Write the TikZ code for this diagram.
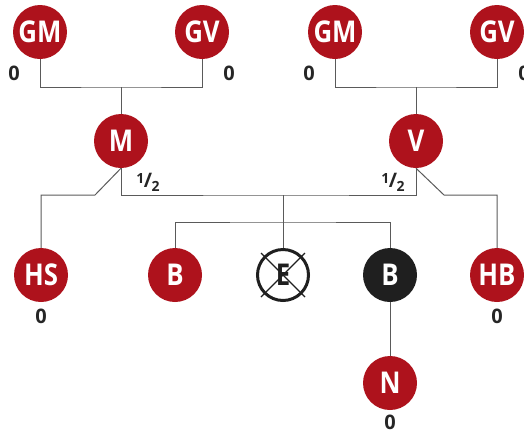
\documentclass[tikz,border=0pt]{standalone}
\usepackage{fontspec}
\setmainfont{Open Sans}
\newfontfamily\condfont[FakeStretch=0.86]{Open Sans}
\usetikzlibrary{calc}
\definecolor{pedred}{HTML}{AE121C}
\definecolor{linegray}{HTML}{5A5A5A}
\newcommand{\myhalf}{\raisebox{4.5pt}{\fontsize{14}{14}\selectfont 1}\kern-0.5pt/\kern-0.5pt\raisebox{-3.5pt}{\fontsize{14}{14}\selectfont 2}}
\begin{document}
\begin{tikzpicture}[x=1pt,y=-1pt,
  person/.style={circle,fill=pedred,minimum size=54pt,inner sep=0pt,text=white,font=\condfont\fontsize{30}{30}\selectfont\bfseries},
  dark/.style={circle,fill=black!88,minimum size=54pt,inner sep=0pt,text=white,font=\condfont\fontsize{30}{30}\selectfont\bfseries},
  crossed/.style={circle,draw=black!88,line width=3pt,minimum size=51pt,inner sep=0pt,text=black!88,font=\condfont\fontsize{30}{30}\selectfont\bfseries},
  val/.style={font=\fontsize{20}{20}\selectfont\bfseries,text=black!85,inner sep=0pt},
  link/.style={draw=linegray,line width=1pt}]
\useasboundingbox (0,0) rectangle (524,432);
\node[person] (gm1) at (40,32) {GM};
\node[person] (gv1) at (202,32) {GV};
\node[person] (gm2) at (335,32) {GM};
\node[person] (gv2) at (497,32) {GV};
\node[person] (m) at (121,141) {M};
\node[person] (v) at (416,141) {V};
\node[person] (hs) at (41,275) {HS};
\node[person] (b1) at (175,275) {B};
\node[crossed] (e) at (283,275) {E};
\node[dark] (b2) at (390,275) {B};
\node[person] (hb) at (497,275) {HB};
\node[person] (n) at (390,383) {N};
% crossing lines on E
\draw[black!88,line width=1.3pt] ($(e)+(-22,-22)$) -- ($(e)+(22,22)$);
\draw[black!88,line width=1.3pt] ($(e)+(22,-22)$) -- ($(e)+(-22,22)$);
% values
\node[val] (l1) at (14,73) {0};
\node[val] (l2) at (229,73) {0};
\node[val] (l3) at (309,73) {0};
\node[val] (l4) at (524,73) {0};
\node[val] (l5) at (41,316) {0};
\node[val] (l6) at (497,316) {0};
\node[val] (l7) at (390,422) {0};
\node[val] (h1) at (148,182) {\myhalf};
\node[val] (h2) at (393,182) {\myhalf};
% connectors
\coordinate (p1) at (121,87);
\coordinate (p2) at (416,87);
\coordinate (mv) at (283,195);
\coordinate (sib) at (283,222);
\coordinate (ml) at (95,195);
\coordinate (vr) at (444,195);
\draw[link] (gm1.south) |- (p1) -| (gv1.south);
\draw[link] (p1) -- (m.north);
\draw[link] (gm2.south) |- (p2) -| (gv2.south);
\draw[link] (p2) -- (v.north);
\draw[link] (m.south) |- (mv) -| (v.south);
\draw[link] (m.south) -- (ml) -| (hs.north);
\draw[link] (v.south) -- (vr) -| (hb.north);
\draw[link] (mv) -- (sib);
\draw[link] (b1.north) |- (sib) -| (b2.north);
\draw[link] (sib) -- (e.north);
\draw[link] (b2.south) -- (n.north);
\end{tikzpicture}
\end{document}
